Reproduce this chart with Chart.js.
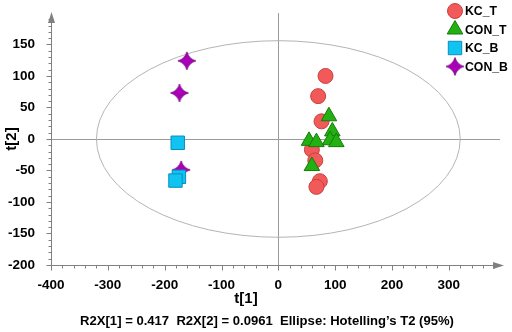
<!DOCTYPE html>
<html>
<head>
<meta charset="utf-8">
<style>
  html, body { margin: 0; padding: 0; background: #fff; }
  #wrap { width: 512px; height: 332px; }
</style>
<script src="https://cdn.jsdelivr.net/npm/chart.js@4"></script>
</head>
<body>
<div id="wrap"><canvas id="scoreChart" width="512" height="332"></canvas></div>
<script>
// score values
const kcT_x = [83, 70, 76, 59, 65, 73, 67];
const kcT_y = [100, 68, 28, -17, -34, -67, -76];
const conT_x = [89, 95, 54, 67, 91, 102, 59];
const conT_y = [36, 12, -3, -5, -2, -5, -43];
const kcB_x = [-177, -175, -181];
const kcB_y = [-6, -60, -66];
const conB_x = [-161, -174, -171];
const conB_y = [124, 73, -49];

const xTicks = [-400, -300, -200, -100, 0, 100, 200, 300];
const yTicks = [-200, -150, -100, -50, 0, 50, 100, 150];

// Hotelling T2 ellipse semi axes
const ellipseA = 320;
const ellipseB = 156;

const footerText = 'R2X[1] = 0.417  R2X[2] = 0.0961  Ellipse: Hotelling\u2019s T2 (95%)';
const FONT = '"Liberation Sans Narrow", "Arial Narrow", "Liberation Sans", sans-serif';

function toPoints(xs, ys) {
    return xs.map((x, i) => ({ x: x, y: ys[i] }));
}

// 4 point star, not available in chart.js
function makeStar(size, fill, stroke) {
    const c = document.createElement('canvas');
    c.width = size; c.height = size;
    const g = c.getContext('2d');
    const m = size / 2, r = size / 2 - 1, k = r * 0.22;
    g.beginPath();
    g.moveTo(m, m - r);
    g.quadraticCurveTo(m + k, m - k, m + r, m);
    g.quadraticCurveTo(m + k, m + k, m, m + r);
    g.quadraticCurveTo(m - k, m + k, m - r, m);
    g.quadraticCurveTo(m - k, m - k, m, m - r);
    g.closePath();
    g.fillStyle = fill;
    g.fill();
    g.strokeStyle = stroke;
    g.lineWidth = 0.8;
    g.stroke();
    return c;
}
const starImg = makeStar(20, '#a800b4', '#7a0086');

const styles = {
    kcT: { bg: '#f25a5a', bd: '#c84040', shape: 'circle', r: 7.5 },
    conT: { bg: '#22b012', bd: '#167a0a', shape: 'triangle', r: 9 },
    kcB: { bg: '#10c4f2', bd: '#0a8cc0', shape: 'rect', r: 9.5 },
    conB: { bg: '#a800b4', bd: '#7a0086', shape: starImg, r: 10 }
};

function ds(label, pts, st, order) {
    return {
        label: label,
        data: pts,
        pointStyle: st.shape,
        pointRadius: st.r,
        pointHoverRadius: st.r,
        backgroundColor: st.bg,
        borderColor: st.bd,
        borderWidth: 1,
        order: order
    };
}

// pick a font size so the text takes the given width
function fitFont(ctx, text, width, base) {
    ctx.font = 'bold ' + base + 'px ' + FONT;
    const w = ctx.measureText(text).width;
    return 'bold ' + (base * width / w).toFixed(2) + 'px ' + FONT;
}

const extras = {
    id: 'extras',
    beforeDatasetsDraw(chart) {
        const { ctx, scales: { x, y }, chartArea } = chart;
        const x0 = x.getPixelForValue(0), y0 = y.getPixelForValue(0);
        ctx.save();
        // zero lines
        ctx.strokeStyle = '#9a9a9a';
        ctx.lineWidth = 1;
        ctx.beginPath();
        ctx.moveTo(Math.round(x0) + 0.5, chartArea.top - 3);
        ctx.lineTo(Math.round(x0) + 0.5, chartArea.bottom);
        ctx.moveTo(chartArea.left, Math.round(y0) + 0.5);
        ctx.lineTo(chartArea.right, Math.round(y0) + 0.5);
        ctx.stroke();
        // ellipse
        const rx = x.getPixelForValue(ellipseA) - x0;
        const ry = y0 - y.getPixelForValue(ellipseB);
        ctx.strokeStyle = '#b4b4b4';
        ctx.beginPath();
        ctx.ellipse(x0, y0, rx, ry, 0, 0, Math.PI * 2);
        ctx.stroke();
        ctx.restore();
    },
    afterDraw(chart) {
        const { ctx, scales: { x, y }, chartArea } = chart;
        ctx.save();
        const L = chartArea.left + 0.5, B = Math.round(chartArea.bottom) + 0.5;
        // axis lines + arrows
        ctx.strokeStyle = '#808080';
        ctx.fillStyle = '#808080';
        ctx.lineWidth = 1;
        ctx.beginPath();
        ctx.moveTo(L, B);
        ctx.lineTo(L, chartArea.top + 4);
        ctx.moveTo(L, B);
        ctx.lineTo(chartArea.right - 4, B);
        ctx.stroke();
        ctx.beginPath();
        ctx.moveTo(L, chartArea.top - 4);
        ctx.lineTo(L - 3.5, chartArea.top + 7);
        ctx.lineTo(L + 3.5, chartArea.top + 7);
        ctx.closePath();
        ctx.fill();
        ctx.beginPath();
        ctx.moveTo(chartArea.right + 4, B);
        ctx.lineTo(chartArea.right - 7, B - 3.5);
        ctx.lineTo(chartArea.right - 7, B + 3.5);
        ctx.closePath();
        ctx.fill();
        // ticks: major and minor
        ctx.beginPath();
        for (let v = -200; v <= 190; v += 10) {
            const py = Math.round(y.getPixelForValue(v)) + 0.5;
            const len = v % 50 === 0 ? 5 : 3;
            ctx.moveTo(L - len, py);
            ctx.lineTo(L, py);
        }
        for (let v = -400; v <= 380; v += 20) {
            const px = Math.round(x.getPixelForValue(v)) + 0.5;
            const len = v % 100 === 0 ? 5 : 3;
            ctx.moveTo(px, B);
            ctx.lineTo(px, B + len);
        }
        ctx.stroke();
        // axis titles and footer
        ctx.fillStyle = '#000';
        ctx.font = 'bold 15px ' + FONT;
        ctx.textAlign = 'center';
        ctx.textBaseline = 'middle';
        ctx.fillText('t[1]', 246, 299);
        ctx.save();
        ctx.translate(12, y.getPixelForValue(0));
        ctx.rotate(-Math.PI / 2);
        ctx.fillText('t[2]', 0, 0);
        ctx.restore();
        ctx.font = fitFont(ctx, footerText, 374, 14);
        ctx.fillText(footerText, 267, 321);
        // legend
        const rows = [
            ['KC_T', styles.kcT], ['CON_T', styles.conT],
            ['KC_B', styles.kcB], ['CON_B', styles.conB]
        ];
        const legendFont = fitFont(ctx, 'CON_B', 43, 15);
        rows.forEach((row, i) => {
            const st = row[1];
            const cy = 11 + i * 18.5;
            ctx.fillStyle = st.bg;
            ctx.strokeStyle = st.bd;
            Chart.helpers.drawPoint(ctx, { pointStyle: st.shape, radius: st.r, borderWidth: 1, rotation: 0 }, 455, cy);
            ctx.fillStyle = '#000';
            ctx.font = legendFont;
            ctx.textAlign = 'left';
            ctx.fillText(row[0], 465, cy + 1);
        });
        ctx.restore();
    }
};

new Chart(document.getElementById('scoreChart'), {
    type: 'scatter',
    data: {
        datasets: [
            ds('KC_T', toPoints(kcT_x, kcT_y), styles.kcT, 1),
            ds('CON_T', toPoints(conT_x, conT_y), styles.conT, 0),
            ds('KC_B', toPoints(kcB_x, kcB_y), styles.kcB, 2),
            ds('CON_B', toPoints(conB_x, conB_y), styles.conB, 3)
        ]
    },
    options: {
        responsive: false,
        animation: false,
        events: [],
        layout: { padding: { top: 13, right: 12, left: 0, bottom: 0 } },
        scales: {
            x: {
                type: 'linear',
                min: -400,
                max: 390,
                grid: { display: false },
                border: { display: false },
                afterBuildTicks: s => { s.ticks = xTicks.map(v => ({ value: v })); },
                afterFit: s => { s.height = 67; },
                ticks: { color: '#000', padding: 4, maxRotation: 0, font: { family: FONT, size: 13.5, weight: 'bold' } }
            },
            y: {
                type: 'linear',
                min: -200,
                max: 195,
                grid: { display: false },
                border: { display: false },
                afterBuildTicks: s => { s.ticks = yTicks.map(v => ({ value: v })); },
                afterFit: s => { s.width = 51; },
                ticks: { color: '#000', padding: 8, font: { family: FONT, size: 13.5, weight: 'bold' } }
            }
        },
        plugins: {
            legend: { display: false },
            tooltip: { enabled: false }
        }
    },
    plugins: [extras]
});
</script>
</body>
</html>
